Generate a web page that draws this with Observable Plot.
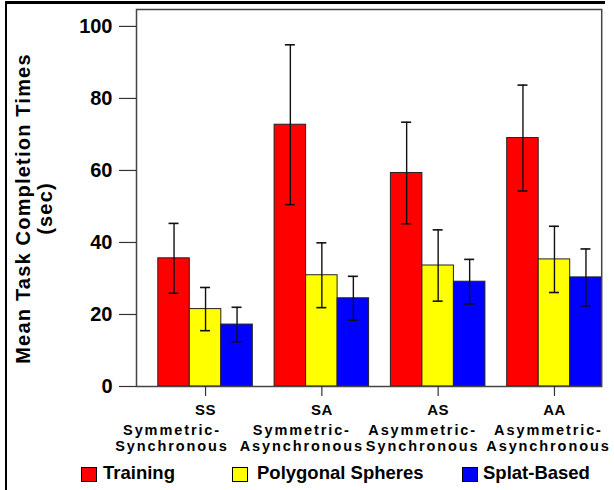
<!DOCTYPE html>
<html><head><meta charset="utf-8">
<script src="https://cdn.jsdelivr.net/npm/d3@7"></script>
<script src="https://cdn.jsdelivr.net/npm/@observablehq/plot@0.6"></script>
<style>
body{margin:0;background:#fff;font-family:"Liberation Sans",Arial,sans-serif;}
#wrap{position:relative;width:614px;height:490px;overflow:hidden;background:#fff;}
#chart{position:absolute;left:0;top:0;}
#border{position:absolute;left:5px;top:1px;width:598px;height:495px;border-top:3px solid #000;border-left:2px solid #000;pointer-events:none;}
.leg{position:absolute;font-weight:bold;font-size:18.5px;line-height:20px;color:#000;white-space:nowrap;}
.sw{position:absolute;width:14px;height:13px;border:1px solid #000;}
</style></head><body>
<div id="wrap"><div id="chart"></div><div id="legend"></div><div id="border"></div></div>
<script>
const groups = ["SS", "SA", "AS", "AA"];
const groupNames = ["Symmetric-\nSynchronous", "Symmetric-\nAsynchronous", "Asymmetric-\nSynchronous", "Asymmetric-\nAsynchronous"];
const series = ["Training", "Polygonal Spheres", "Splat-Based"];
const colors = ["#ff0000", "#ffff00", "#0000ff"];
const trainingMean = [35.6, 72.7, 59.3, 69.0];
const polygonalMean = [21.5, 30.9, 33.6, 35.3];
const splatMean = [17.2, 24.5, 29.1, 30.3];
const trainingErr = [9.7, 22.2, 14.1, 14.7];
const polygonalErr = [6.0, 9.0, 9.9, 9.2];
const splatErr = [4.8, 6.1, 6.2, 7.9];
const yTicks = [0, 20, 40, 60, 80, 100];
const yLabel = "Mean Task Completion Times\n(sec)";

const means = [trainingMean, polygonalMean, splatMean];
const errs = [trainingErr, polygonalErr, splatErr];
const data = groups.flatMap((g, i) => series.map((s, j) => ({group: g, series: s, value: means[j][i], err: errs[j][i]})));
const groupData = groups.map((g, i) => ({group: g, name: groupNames[i]}));

// horizontal shift of the two-line category descriptions (as in the original layout)
const descShift = [-33.5, -20, -15.5, -6];

const plot = Plot.plot({
  width: 614, height: 455,
  marginLeft: 136, marginRight: 8, marginTop: 9, marginBottom: 69,
  style: {fontFamily: "'Liberation Sans', Arial, sans-serif", background: "transparent", color: "#000"},
  fx: {domain: groups, paddingInner: 0, paddingOuter: 0.0206, align: 0, round: false, axis: null, label: null},
  x: {domain: series, paddingInner: 0, paddingOuter: 0.346, align: 1, round: false},
  y: {domain: [0, 104.7]},
  color: {domain: series, range: colors},
  marks: [
    Plot.barY(data, {fx: "group", x: "series", y: "value", fill: "series", stroke: "#222", strokeWidth: 1}),
    Plot.ruleX(data, {fx: "group", x: "series", y1: d => d.value - d.err, y2: d => d.value + d.err, stroke: "#111", strokeWidth: 1.4}),
    Plot.tickY(data, {fx: "group", x: "series", y: d => d.value + d.err, insetLeft: 10.75, insetRight: 10.75, stroke: "#111", strokeWidth: 1.6}),
    Plot.tickY(data, {fx: "group", x: "series", y: d => d.value - d.err, insetLeft: 10.75, insetRight: 10.75, stroke: "#111", strokeWidth: 1.6}),
    Plot.frame({facet: "super", stroke: "#444", strokeWidth: 1.5}),
    Plot.axisY({ticks: yTicks, tickSize: 17, tickPadding: 7, fontSize: 20, fontWeight: "bold", label: null, stroke: "#333", strokeWidth: 1.2}),
    Plot.axisX({ticks: [series[1]], tickSize: 10, tickFormat: () => "", label: null, stroke: "#333", strokeWidth: 1.2}),
    Plot.text(groupData, {fx: "group", x: () => series[1], frameAnchor: "bottom", text: "group", dy: 28, fontSize: 15, fontWeight: "bold"}),
    ...groups.map((g, i) => Plot.text(groupData.filter(d => d.group === g), {fx: "group", x: () => series[1], frameAnchor: "bottom", text: "name", lineAnchor: "top", lineHeight: 1.12, dy: 37, dx: descShift[i], fontSize: 14.5, fontWeight: "bold"})),
    Plot.text([groups[0]], {fx: d => d, frameAnchor: "left", textAnchor: "middle", lineAnchor: "middle", text: () => yLabel, rotate: -90, lineHeight: 1.1, dx: -102.5, dy: 10.5, fontSize: 20, fontWeight: "bold"})
  ]
});
const flatNames = groupNames.map(n => n.replace("\n", ""));
d3.select(plot).selectAll("text").each(function() {
  const t = this.textContent;
  if (flatNames.includes(t)) this.style.letterSpacing = "1.9px";
  else if (groups.includes(t)) this.style.letterSpacing = "0.5px";
  else if (t === yLabel.replace("\n", "")) this.style.letterSpacing = "1.2px";
});
document.getElementById("chart").appendChild(plot);

// legend (HTML below the SVG)
const legendPos = [{sw: 81, tx: 103}, {sw: 232, tx: 257}, {sw: 462, tx: 483}];
const legend = document.getElementById("legend");
series.forEach((s, j) => {
  const sw = document.createElement("div");
  sw.className = "sw";
  sw.style.left = legendPos[j].sw + "px";
  sw.style.top = "467px";
  sw.style.background = colors[j];
  legend.appendChild(sw);
  const t = document.createElement("div");
  t.className = "leg";
  t.style.left = legendPos[j].tx + "px";
  t.style.top = "463px";
  t.textContent = s;
  legend.appendChild(t);
});
</script>
</body></html>
